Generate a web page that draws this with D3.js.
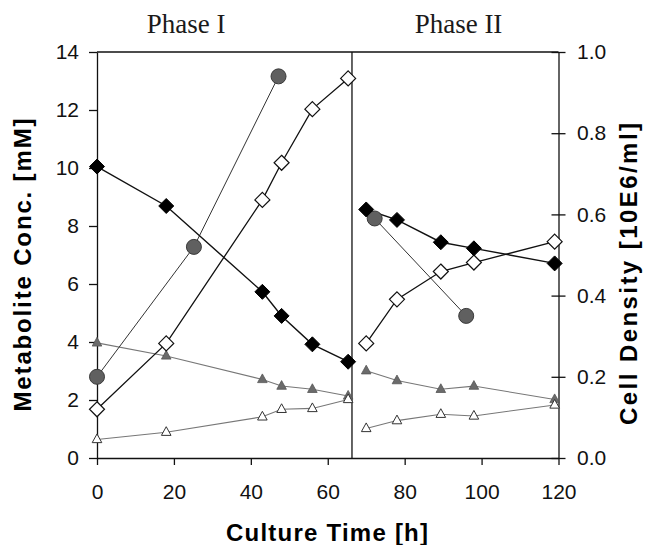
<!DOCTYPE html>
<html>
<head>
<meta charset="utf-8">
<script src="https://cdn.jsdelivr.net/npm/d3@7"></script>
<style>
  html, body { margin: 0; padding: 0; background: #fff; }
  svg { display: block; }
</style>
</head>
<body>
<svg width="646" height="545"></svg>
<script>
// culture time [h] for each phase
var timesI = [0, 18, 43, 48, 56, 65.3];
var timesII = [70, 78, 89.4, 98, 119];
var circleTimesI = [0, 25.2, 47.2];
var circleTimesII = [72.2, 96];

// metabolites [mM]
var blackDiamondI = [10.05, 8.69, 5.73, 4.90, 3.92, 3.32];
var blackDiamondII = [8.57, 8.21, 7.44, 7.23, 6.71];
var openDiamondI = [1.68, 3.95, 8.9, 10.18, 12.03, 13.09];
var openDiamondII = [3.95, 5.47, 6.43, 6.74, 7.46];
var greyTriangleI = [3.97, 3.52, 2.71, 2.48, 2.37, 2.14];
var greyTriangleII = [3.01, 2.67, 2.37, 2.48, 2.02];
var openTriangleI = [0.64, 0.89, 1.42, 1.68, 1.71, 2.02];
var openTriangleII = [1.02, 1.29, 1.51, 1.45, 1.83];

// cell density [10E6/ml]
var cellDensityI = [0.20, 0.52, 0.94];
var cellDensityII = [0.59, 0.35];

var xTicks = [0, 20, 40, 60, 80, 100, 120];
var yLeftTicks = [0, 2, 4, 6, 8, 10, 12, 14];
var yRightTicks = [0, 0.2, 0.4, 0.6, 0.8, 1.0];
var phaseBreak = 66.3;
var phaseLabels = ['Phase I', 'Phase II'];

var svg = d3.select('svg');
var sans = "'Liberation Sans', Arial, sans-serif";

var x = d3.scaleLinear().domain([0, 120]).range([97, 558.5]);
var yL = d3.scaleLinear().domain([0, 14]).range([458, 52]);
var yR = d3.scaleLinear().domain([0, 1]).range([458, 52]);

function styleAxis(g) {
    g.selectAll('path, line').attr('stroke', '#111').attr('stroke-width', 1.3);
    g.selectAll('text').attr('font-family', sans).attr('font-size', 21).attr('fill', '#111');
}

svg.append('g')
    .attr('transform', 'translate(0,458)')
    .call(d3.axisBottom(x).tickValues(xTicks).tickSizeInner(7).tickSizeOuter(0).tickPadding(19.5))
    .call(styleAxis);

svg.append('g')
    .attr('transform', 'translate(97,0)')
    .call(d3.axisLeft(yL).tickValues(yLeftTicks).tickSizeInner(8).tickSizeOuter(0).tickPadding(10))
    .call(styleAxis);

var right = svg.append('g')
    .attr('transform', 'translate(558.5,0)')
    .call(d3.axisRight(yR).tickValues(yRightTicks).tickFormat(d3.format('.1f'))
        .tickSizeInner(7).tickSizeOuter(0).tickPadding(11.5))
    .call(styleAxis);
right.selectAll('.tick line').attr('x1', -7);

// top frame and phase divider
svg.append('line')
    .attr('x1', x(0)).attr('x2', x(120)).attr('y1', yL(14)).attr('y2', yL(14))
    .attr('stroke', '#111').attr('stroke-width', 1.3);
svg.append('line')
    .attr('x1', x(phaseBreak)).attr('x2', x(phaseBreak)).attr('y1', yL(14)).attr('y2', yL(0))
    .attr('stroke', '#111').attr('stroke-width', 1.3);

svg.selectAll('.phase')
    .data(phaseLabels)
    .enter().append('text')
    .attr('x', (d, i) => x([23.2, 94][i]))
    .attr('y', 33)
    .attr('text-anchor', 'middle')
    .attr('font-family', "'Liberation Serif', 'Times New Roman', serif")
    .attr('font-size', 27)
    .attr('fill', '#1a1a1a')
    .text(d => d);

// axis titles
svg.append('text')
    .attr('x', 327).attr('y', 541)
    .attr('text-anchor', 'middle')
    .attr('font-family', sans).attr('font-weight', 'bold').attr('font-size', 24)
    .attr('textLength', 202).attr('lengthAdjust', 'spacing')
    .text('Culture Time [h]');

svg.append('text')
    .attr('transform', 'translate(31,265) rotate(-90)')
    .attr('text-anchor', 'middle')
    .attr('font-family', sans).attr('font-weight', 'bold').attr('font-size', 24)
    .attr('textLength', 293).attr('lengthAdjust', 'spacing')
    .text('Metabolite Conc. [mM]');

svg.append('text')
    .attr('transform', 'translate(636.5,274) rotate(-90)')
    .attr('text-anchor', 'middle')
    .attr('font-family', sans).attr('font-weight', 'bold').attr('font-size', 24)
    .attr('textLength', 302).attr('lengthAdjust', 'spacing')
    .text('Cell Density [10E6/ml]');

// series
function pairs(ts, vs) { return ts.map((t, i) => [t, vs[i]]); }

var diamond = r => `M0,${-r}L${r},0L0,${r}L${-r},0Z`;
var triangle = 'M0,-5.5L4.8,3.2L-4.8,3.2Z';

var series = [
    { pts: [pairs(timesI, greyTriangleI), pairs(timesII, greyTriangleII)], y: yL,
      line: '#777', lw: 1.1, shape: triangle, fill: '#6b6b6b', stroke: '#555', sw: 0.8 },
    { pts: [pairs(timesI, openTriangleI), pairs(timesII, openTriangleII)], y: yL,
      line: '#777', lw: 1.1, shape: triangle, fill: '#fff', stroke: '#333', sw: 1 },
    { pts: [pairs(circleTimesI, cellDensityI), pairs(circleTimesII, cellDensityII)], y: yR,
      line: '#333', lw: 1, shape: 'circle', fill: '#606060', stroke: '#3a3a3a', sw: 1 },
    { pts: [pairs(timesI, openDiamondI), pairs(timesII, openDiamondII)], y: yL,
      line: '#111', lw: 1.3, shape: diamond(7.5), fill: '#fff', stroke: '#111', sw: 1.2 },
    { pts: [pairs(timesI, blackDiamondI), pairs(timesII, blackDiamondII)], y: yL,
      line: '#111', lw: 1.4, shape: diamond(7.5), fill: '#000', stroke: '#000', sw: 1 }
];

series.forEach(s => {
    var line = d3.line().x(d => x(d[0])).y(d => s.y(d[1]));
    s.pts.forEach(p => {
        svg.append('path')
            .attr('d', line(p))
            .attr('fill', 'none')
            .attr('stroke', s.line)
            .attr('stroke-width', s.lw);
    });
});

series.forEach(s => {
    var all = s.pts[0].concat(s.pts[1]);
    var g = svg.append('g');
    if (s.shape === 'circle') {
        g.selectAll('circle').data(all).enter().append('circle')
            .attr('cx', d => x(d[0])).attr('cy', d => s.y(d[1])).attr('r', 7.5)
            .attr('fill', s.fill).attr('stroke', s.stroke).attr('stroke-width', s.sw);
    } else {
        g.selectAll('path').data(all).enter().append('path')
            .attr('transform', d => `translate(${x(d[0])},${s.y(d[1])})`)
            .attr('d', s.shape)
            .attr('fill', s.fill).attr('stroke', s.stroke).attr('stroke-width', s.sw);
    }
});
</script>
</body>
</html>
